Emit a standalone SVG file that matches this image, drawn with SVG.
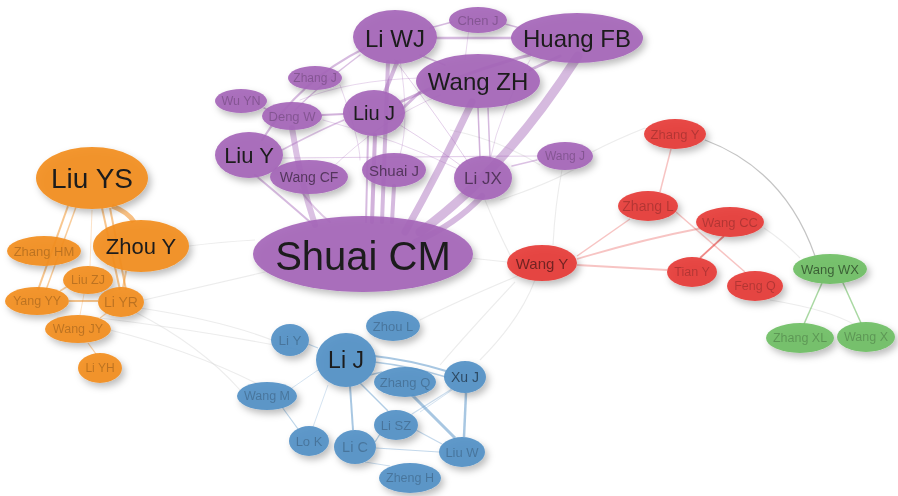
<svg xmlns="http://www.w3.org/2000/svg" width="898" height="496" viewBox="0 0 898 496">
<defs>
<filter id="sh" x="-30%" y="-30%" width="160%" height="170%">
<feDropShadow dx="3" dy="4" stdDeviation="3.5" flood-color="#000" flood-opacity="0.28"/>
</filter>
<style>
text{font-family:"Liberation Sans",Arial,sans-serif;text-anchor:middle;dominant-baseline:central}
.p ellipse{fill:#a565b8;fill-opacity:0.92}
.o ellipse{fill:#f28d1e;fill-opacity:0.92}
.r ellipse{fill:#e63b37;fill-opacity:0.92}
.g ellipse{fill:#6fbe64;fill-opacity:0.92}
.b ellipse{fill:#5290c6;fill-opacity:0.92}
.node{filter:url(#sh)}
.big{fill:#1c1c1c}
.mid{fill:#000;fill-opacity:0.5}
.sm{fill:#000;fill-opacity:0.22}
.ep{stroke:#a565b8;fill:none;stroke-linecap:round}
.eo{stroke:#f28d1e;fill:none}
.er{stroke:#e63b37;fill:none;stroke-opacity:0.3}
.eg{stroke:#6fbe64;fill:none}
.eb{stroke:#5290c6;fill:none}
.ex{stroke:#cfcfcf;fill:none;stroke-opacity:0.4;stroke-width:1.1}
</style>
</defs>
<rect width="898" height="496" fill="#fff"/>
<g id="edges">
<path class="ex" d="M189 246 Q220 242 255 240"/>
<path class="ex" d="M144 300 Q210 285 265 272"/>
<path class="ex" d="M140 308 Q220 320 272 340"/>
<path class="ex" d="M135 312 Q200 345 240 390"/>
<path class="ex" d="M110 330 Q190 350 260 385"/>
<path class="ex" d="M100 318 Q200 330 300 350"/>
<path class="ex" d="M507 262 L470 258"/>
<path class="ex" d="M510 255 Q495 225 485 200"/>
<path class="ex" d="M553 245 Q555 205 562 170"/>
<path class="ex" d="M645 128 Q615 140 592 152"/>
<path class="ex" d="M590 160 Q560 180 500 200"/>
<path class="ex" d="M764 228 Q785 242 800 258"/>
<path class="ex" d="M520 275 Q460 300 420 320"/>
<path class="ex" d="M515 282 Q470 330 440 365"/>
<path class="ex" d="M480 360 Q520 320 535 280"/>
<path class="ex" d="M540 165 Q500 140 450 130"/>
<path class="ex" d="M770 300 Q830 310 855 325"/>
<path d="M705 140 Q785 170 815 256" fill="none" stroke="#8a8a8a" stroke-opacity="0.5" stroke-width="1.2"/>
<g class="ep">
<path d="M420 232 Q505 170 578 56" stroke-width="9" stroke-opacity="0.45"/>
<path d="M405 232 Q440 170 472 102" stroke-width="7" stroke-opacity="0.45"/>
<path d="M482 196 Q455 225 415 242" stroke-width="6" stroke-opacity="0.45"/>
<path d="M372 222 L375 135" stroke-width="4" stroke-opacity="0.5"/>
<path d="M382 222 L388 62" stroke-width="4" stroke-opacity="0.45"/>
<path d="M392 222 L394 186" stroke-width="4" stroke-opacity="0.45"/>
<path d="M366 222 L368 136" stroke-width="2" stroke-opacity="0.45"/>
<path d="M397 62 L385 92" stroke-width="4" stroke-opacity="0.45"/>
<path d="M292 128 Q300 180 315 225" stroke-width="6" stroke-opacity="0.4"/>
<path d="M255 175 Q285 200 310 222" stroke-width="2" stroke-opacity="0.45"/>
<path d="M300 190 Q315 210 330 222" stroke-width="2" stroke-opacity="0.35"/>
<path d="M437 38 L512 38" stroke-width="2.5" stroke-opacity="0.45"/>
<path d="M430 28 L452 22" stroke-width="1.5" stroke-opacity="0.45"/>
<path d="M505 24 L520 28" stroke-width="1.5" stroke-opacity="0.45"/>
<path d="M400 102 Q470 70 530 55" stroke-width="3" stroke-opacity="0.5"/>
<path d="M403 108 L420 92" stroke-width="3" stroke-opacity="0.45"/>
<path d="M530 70 L560 56" stroke-width="3" stroke-opacity="0.45"/>
<path d="M420 55 L445 65" stroke-width="1.5" stroke-opacity="0.45"/>
<path d="M365 48 Q300 80 262 140" stroke-width="2" stroke-opacity="0.45"/>
<path d="M360 55 Q320 85 295 110" stroke-width="1.5" stroke-opacity="0.4"/>
<path d="M322 115 L344 114" stroke-width="2" stroke-opacity="0.5"/>
<path d="M264 108 L272 112" stroke-width="1.5" stroke-opacity="0.45"/>
<path d="M282 150 Q320 130 344 120" stroke-width="1.5" stroke-opacity="0.4"/>
<path d="M478 108 L480 158" stroke-width="1.5" stroke-opacity="0.5"/>
<path d="M488 108 L490 158" stroke-width="1.5" stroke-opacity="0.45"/>
<path d="M283 158 L537 156" stroke-width="1.2" stroke-opacity="0.3"/>
<path d="M512 166 L537 160" stroke-width="1.5" stroke-opacity="0.4"/>
<path d="M395 60 Q440 120 470 165" stroke-width="1" stroke-opacity="0.3"/>
<path d="M400 125 Q440 150 460 165" stroke-width="1" stroke-opacity="0.3"/>
<path d="M323 120 Q400 140 460 170" stroke-width="1" stroke-opacity="0.25"/>
<path d="M300 100 Q350 80 420 78" stroke-width="1" stroke-opacity="0.25"/>
<path d="M330 170 Q380 120 440 95" stroke-width="1" stroke-opacity="0.25"/>
<path d="M340 85 Q360 140 360 160" stroke-width="1" stroke-opacity="0.25"/>
<path d="M400 60 Q410 120 400 155" stroke-width="1" stroke-opacity="0.25"/>
<path d="M470 20 L465 60" stroke-width="1" stroke-opacity="0.25"/>
<path d="M530 60 Q500 110 490 160" stroke-width="1" stroke-opacity="0.25"/>
</g>
<g class="eo">
<path d="M112 206 Q128 212 134 222" stroke-width="5" stroke-opacity="0.55"/>
<path d="M102 208 L120 290" stroke-width="2" stroke-opacity="0.5"/>
<path d="M110 208 L126 290" stroke-width="2" stroke-opacity="0.5"/>
<path d="M68 206 L38 290" stroke-width="2" stroke-opacity="0.5"/>
<path d="M76 207 L46 290" stroke-width="1.5" stroke-opacity="0.45"/>
<path d="M126 271 L123 288" stroke-width="2" stroke-opacity="0.45"/>
<path d="M69 301 L98 301" stroke-width="2" stroke-opacity="0.5"/>
<path d="M60 291 L68 286" stroke-width="1.5" stroke-opacity="0.45"/>
<path d="M92 210 L90 266" stroke-width="1" stroke-opacity="0.25"/>
<path d="M88 343 L96 354" stroke-width="1.2" stroke-opacity="0.4"/>
<path d="M100 318 L108 312" stroke-width="1.2" stroke-opacity="0.4"/>
<path d="M84 294 L80 315" stroke-width="1" stroke-opacity="0.25"/>
</g>
<g class="er">
<path d="M671 149 L660 192" stroke-width="1.5"/>
<path d="M630 219 L577 256" stroke-width="1.5"/>
<path d="M676 212 L745 272" stroke-width="1.5"/>
<path d="M577 259 Q640 240 702 228" stroke-width="1.8"/>
<path d="M577 265 L667 270" stroke-width="1.8"/>
<path d="M700 258 L724 236" stroke-width="1.8" stroke-opacity="0.6"/>
</g>
<g class="eg">
<path d="M822 283 L804 324" stroke-width="1.5" stroke-opacity="0.6"/>
<path d="M843 283 L861 323" stroke-width="1.5" stroke-opacity="0.6"/>
</g>
<g class="eb">
<path d="M374 356 Q410 360 446 371" stroke-width="2" stroke-opacity="0.5"/>
<path d="M374 362 Q410 366 446 377" stroke-width="1.5" stroke-opacity="0.45"/>
<path d="M370 375 L382 372" stroke-width="1.5" stroke-opacity="0.45"/>
<path d="M350 386 L353 430" stroke-width="2" stroke-opacity="0.5"/>
<path d="M360 383 L388 411" stroke-width="1.5" stroke-opacity="0.45"/>
<path d="M412 395 L455 438" stroke-width="3" stroke-opacity="0.5"/>
<path d="M466 393 L464 437" stroke-width="2.5" stroke-opacity="0.5"/>
<path d="M452 389 L412 414" stroke-width="1.2" stroke-opacity="0.3"/>
<path d="M375 442 L380 434" stroke-width="1.2" stroke-opacity="0.45"/>
<path d="M376 448 L439 452" stroke-width="1.2" stroke-opacity="0.35"/>
<path d="M416 430 L442 444" stroke-width="1.2" stroke-opacity="0.35"/>
<path d="M365 462 L390 466" stroke-width="1" stroke-opacity="0.3"/>
<path d="M313 427 L328 385" stroke-width="1" stroke-opacity="0.25"/>
<path d="M282 407 L298 429" stroke-width="1.2" stroke-opacity="0.4"/>
<path d="M292 388 L318 370" stroke-width="1" stroke-opacity="0.25"/>
<path d="M308 344 L318 348" stroke-width="1.2" stroke-opacity="0.35"/>
<path d="M455 388 L420 412" stroke-width="1" stroke-opacity="0.25"/>
</g>
</g>
<g id="n-shuai-cm" class="node p"><ellipse cx="363" cy="254" rx="110" ry="38"/><text x="363" y="256" class="big" font-size="40">Shuai CM</text></g>
<g id="n-li-wj" class="node p"><ellipse cx="395" cy="37" rx="42" ry="27"/><text x="395" y="38" class="big" font-size="24">Li WJ</text></g>
<g id="n-chen-j" class="node p"><ellipse cx="478" cy="20" rx="29" ry="13"/><text x="478" y="20" class="sm" font-size="13">Chen J</text></g>
<g id="n-huang-fb" class="node p"><ellipse cx="577" cy="38" rx="66" ry="25"/><text x="577" y="38" class="big" font-size="24">Huang FB</text></g>
<g id="n-wang-zh" class="node p"><ellipse cx="478" cy="81" rx="62" ry="27"/><text x="478" y="81" class="big" font-size="24">Wang ZH</text></g>
<g id="n-zhang-j" class="node p"><ellipse cx="315" cy="78" rx="27" ry="12"/><text x="315" y="78" class="sm" font-size="12">Zhang J</text></g>
<g id="n-wu-yn" class="node p"><ellipse cx="241" cy="101" rx="26" ry="12"/><text x="241" y="101" class="sm" font-size="12.5">Wu YN</text></g>
<g id="n-deng-w" class="node p"><ellipse cx="292" cy="116" rx="30" ry="14"/><text x="292" y="116" class="sm" font-size="13">Deng W</text></g>
<g id="n-liu-j" class="node p"><ellipse cx="374" cy="113" rx="31" ry="23"/><text x="374" y="113" class="big" font-size="20">Liu J</text></g>
<g id="n-liu-y" class="node p"><ellipse cx="249" cy="155" rx="34" ry="23"/><text x="249" y="155" class="big" font-size="22">Liu Y</text></g>
<g id="n-wang-cf" class="node p"><ellipse cx="309" cy="177" rx="39" ry="17"/><text x="309" y="177" class="mid" font-size="14">Wang CF</text></g>
<g id="n-shuai-j" class="node p"><ellipse cx="394" cy="170" rx="32" ry="17"/><text x="394" y="170" class="mid" font-size="15">Shuai J</text></g>
<g id="n-li-jx" class="node p"><ellipse cx="483" cy="178" rx="29" ry="22"/><text x="483" y="178" class="mid" font-size="17" fill-opacity="0.6">Li JX</text></g>
<g id="n-wang-j" class="node p"><ellipse cx="565" cy="156" rx="28" ry="14"/><text x="565" y="156" class="sm" font-size="12">Wang J</text></g>
<g id="n-liu-ys" class="node o"><ellipse cx="92" cy="178" rx="56" ry="31"/><text x="92" y="178" class="big" font-size="28">Liu YS</text></g>
<g id="n-zhou-y" class="node o"><ellipse cx="141" cy="246" rx="48" ry="26"/><text x="141" y="246" class="big" font-size="22">Zhou Y</text></g>
<g id="n-zhang-hm" class="node o"><ellipse cx="44" cy="251" rx="37" ry="15"/><text x="44" y="251" class="sm" font-size="13">Zhang HM</text></g>
<g id="n-liu-zj" class="node o"><ellipse cx="88" cy="280" rx="25" ry="14"/><text x="88" y="280" class="sm" font-size="12.5">Liu ZJ</text></g>
<g id="n-yang-yy" class="node o"><ellipse cx="37" cy="301" rx="32" ry="14"/><text x="37" y="301" class="sm" font-size="12.5">Yang YY</text></g>
<g id="n-li-yr" class="node o"><ellipse cx="121" cy="302" rx="23" ry="15"/><text x="121" y="302" class="sm" font-size="14" fill-opacity="0.3">Li YR</text></g>
<g id="n-wang-jy" class="node o"><ellipse cx="78" cy="329" rx="33" ry="14"/><text x="78" y="329" class="sm" font-size="12.5">Wang JY</text></g>
<g id="n-li-yh" class="node o"><ellipse cx="100" cy="368" rx="22" ry="15"/><text x="100" y="368" class="sm" font-size="12">Li YH</text></g>
<g id="n-zhang-y" class="node r"><ellipse cx="675" cy="134" rx="31" ry="15"/><text x="675" y="134" class="sm" font-size="13">Zhang Y</text></g>
<g id="n-zhang-l" class="node r"><ellipse cx="648" cy="206" rx="30" ry="15"/><text x="648" y="206" class="sm" font-size="14">Zhang L</text></g>
<g id="n-wang-cc" class="node r"><ellipse cx="730" cy="222" rx="34" ry="15"/><text x="730" y="222" class="sm" font-size="13">Wang CC</text></g>
<g id="n-wang-y" class="node r"><ellipse cx="542" cy="263" rx="35" ry="18"/><text x="542" y="263" class="mid" font-size="15">Wang Y</text></g>
<g id="n-tian-y" class="node r"><ellipse cx="692" cy="272" rx="25" ry="15"/><text x="692" y="272" class="sm" font-size="12.5">Tian Y</text></g>
<g id="n-feng-q" class="node r"><ellipse cx="755" cy="286" rx="28" ry="15"/><text x="755" y="286" class="sm" font-size="12.5">Feng Q</text></g>
<g id="n-wang-wx" class="node g"><ellipse cx="830" cy="269" rx="37" ry="15"/><text x="830" y="269" class="mid" font-size="13" fill-opacity="0.4">Wang WX</text></g>
<g id="n-zhang-xl" class="node g"><ellipse cx="800" cy="338" rx="34" ry="15"/><text x="800" y="338" class="sm" font-size="12.5">Zhang XL</text></g>
<g id="n-wang-x" class="node g"><ellipse cx="866" cy="337" rx="29" ry="15"/><text x="866" y="337" class="sm" font-size="12.5">Wang X</text></g>
<g id="n-li-y" class="node b"><ellipse cx="290" cy="340" rx="19" ry="16"/><text x="290" y="340" class="sm" font-size="13.5">Li Y</text></g>
<g id="n-zhou-l" class="node b"><ellipse cx="393" cy="326" rx="27" ry="15"/><text x="393" y="326" class="sm" font-size="13">Zhou L</text></g>
<g id="n-li-j" class="node b"><ellipse cx="346" cy="360" rx="30" ry="27"/><text x="346" y="360" class="big" font-size="23">Li J</text></g>
<g id="n-zhang-q" class="node b"><ellipse cx="405" cy="382" rx="31" ry="15"/><text x="405" y="382" class="sm" font-size="13">Zhang Q</text></g>
<g id="n-xu-j" class="node b"><ellipse cx="465" cy="377" rx="21" ry="16"/><text x="465" y="377" class="mid" font-size="14">Xu J</text></g>
<g id="n-wang-m" class="node b"><ellipse cx="267" cy="396" rx="30" ry="14"/><text x="267" y="396" class="sm" font-size="12.5">Wang M</text></g>
<g id="n-li-sz" class="node b"><ellipse cx="396" cy="425" rx="22" ry="15"/><text x="396" y="425" class="sm" font-size="13">Li SZ</text></g>
<g id="n-lo-k" class="node b"><ellipse cx="309" cy="441" rx="20" ry="15"/><text x="309" y="441" class="sm" font-size="13">Lo K</text></g>
<g id="n-li-c" class="node b"><ellipse cx="355" cy="447" rx="21" ry="17"/><text x="355" y="447" class="sm" font-size="14.5">Li C</text></g>
<g id="n-liu-w" class="node b"><ellipse cx="462" cy="452" rx="23" ry="15"/><text x="462" y="452" class="sm" font-size="13">Liu W</text></g>
<g id="n-zheng-h" class="node b"><ellipse cx="410" cy="478" rx="31" ry="15"/><text x="410" y="478" class="sm" font-size="12.5">Zheng H</text></g>
</svg>
